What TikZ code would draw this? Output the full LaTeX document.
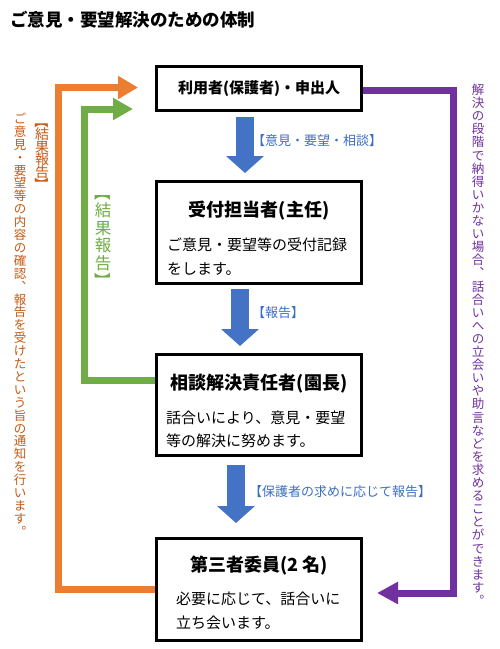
\documentclass[tikz,border=0pt]{standalone}
\usepackage{fontspec}
\usepackage{graphicx}
\setmainfont{Noto Sans CJK JP}
\usetikzlibrary{arrows.meta}
\definecolor{cOrange}{HTML}{ED7D31}
\definecolor{cOrText}{HTML}{C55A11}
\definecolor{cGreen}{HTML}{70AD47}
\definecolor{cPurple}{HTML}{7030A0}
\definecolor{cBlue}{HTML}{4472C4}
\definecolor{cBlueText}{HTML}{3C6EC4}
\ExplSyntaxOn
\NewDocumentCommand\vcell{mmm}{
  \vbox_to_ht:nn {#1} { \vss \hbox_to_wd:nn {1em} { \hss \smash{#3} \hss } \skip_vertical:n {#2} }
}
\NewDocumentCommand\vbrk{mm}{
  \vbox_to_ht:nn {#1} { \vss \hbox_to_wd:nn {1em} { \hss \rotatebox[origin=c]{-90}{#2} \hss } \vss }
}
\NewDocumentCommand\vstack{mm}{
  \tl_map_inline:nn {#2} { \vcell{#1}{(#1 - 1em)/2 + 0.12em}{##1} }
}
\NewDocumentCommand\vtextbox{m}{ \vbox{\offinterlineskip #1} }
\ExplSyntaxOff
\tikzset{
  box/.style={draw=black, line width=3pt, fill=white, minimum width=205pt, inner sep=0pt},
  btitle/.style={inner sep=0pt, font=\bfseries\fontsize{18}{20}\selectfont},
  bbody/.style={inner sep=0pt, anchor=west, align=left, font=\fontsize{15}{23.5}\selectfont},
  blabel/.style={inner sep=0pt, anchor=west, text=cBlueText, font=\fontsize{13}{15}\selectfont},
  vlabel/.style={inner sep=0pt, anchor=north},
  barrow/.style={draw=cBlue, line width=18pt, -{Triangle[length=17pt,width=37pt]}},
  oline/.style={draw=cOrange, line width=7pt, -{Triangle[length=20pt,width=22pt]}},
  gline/.style={draw=cGreen, line width=7pt, -{Triangle[length=20pt,width=21pt]}},
  pline/.style={draw=cPurple, line width=7pt, -{Triangle[length=21pt,width=21pt]}},
}
\begin{document}
\begin{tikzpicture}[x=1pt,y=-1pt]
\fill[white] (0,0) rectangle (500,649);
\useasboundingbox (0,0) rectangle (500,649);
% title
\node[anchor=west, inner sep=0pt, font=\bfseries\fontsize{17.5}{20}\selectfont] (title) at (10,19.5) {ご意見・要望解決のための体制};
% boxes
\node[box, minimum height=44pt, font=\bfseries\fontsize{15}{18}\selectfont] (box1) at (259,88.5) {利用者(保護者)・申出人};
\node[box, minimum height=102pt] (box2) at (259,232.5) {};
\node[box, minimum height=101pt] (box3) at (259,405) {};
\node[box, minimum height=102pt] (box4) at (259,589.5) {};
% box texts
\node[btitle] (t2) at (259,211) {受付担当者(主任)};
\node[bbody] (b2) at (167,256.75) {ご意見・要望等の受付記録\\をします。};
\node[btitle] (t3) at (259,384) {相談解決責任者(園長)};
\node[bbody] (b3) at (166,429.2) {話合いにより、意見・要望\\等の解決に努めます。};
\node[btitle] (t4) at (259,566) {第三者委員(2 名)};
\node[bbody] (b4) at (176,610.7) {必要に応じて、話合いに\\立ち会います。};
% blue arrows
\draw[barrow] ([xshift=-14pt,yshift=-5pt]box1.south) -- ([xshift=-14pt,yshift=7pt]box2.north);
\draw[barrow] ([xshift=-19pt,yshift=-4pt]box2.south) -- ([xshift=-19pt,yshift=7pt]box3.north);
\draw[barrow] ([xshift=-23pt,yshift=-8pt]box3.south) -- ([xshift=-23pt,yshift=14pt]box4.north);
\node[blabel] (l1) at (252,141) {【意見・要望・相談】};
\node[blabel] (l2) at (252,313) {【報告】};
\node[blabel] (l3) at (249,492) {【保護者の求めに応じて報告】};
% feedback lines
\draw[oline, shorten >=17pt] (box4.west) -- ++(-96.5,0) |- ([yshift=1pt]box1.west);
\draw[gline, shorten >=22pt] ([yshift=25pt]box3.west) -- ++(-71,0) |- ([yshift=-20.5pt]box1.west);
\draw[pline, shorten >=14pt] ([yshift=-1.5pt]box1.east) -- ++(90.5,0) |- ([yshift=-3.5pt]box4.east);
% vertical texts
\node[vlabel, text=cOrText, font=\fontsize{14}{14}\selectfont] (olabel) at (42,115)
  {\vtextbox{\vbrk{12.6pt}{【}\vstack{12.6pt}{結果報告}\vbrk{12.6pt}{】}}};
\node[vlabel, text=cOrText, font=\fontsize{12.5}{13}\selectfont] (otext) at (20,112)
  {\vtextbox{\vstack{12.9pt}{ご意見・要望等の内容の確認︑報告を受けたという旨の通知を行います︒}}};
\node[vlabel, text=cGreen, font=\fontsize{16.5}{17}\selectfont] (glabel) at (103,184)
  {\vtextbox{\vbrk{17.5pt}{【}\vstack{17.5pt}{結果報告}\vbrk{17.5pt}{】}}};
\node[vlabel, text=cPurple, font=\fontsize{12.5}{13}\selectfont] (ptext) at (478,83)
  {\vtextbox{\vstack{13.1pt}{解決の段階で納得いかない場合︑話合いへの立会いや助言などを求めることができます︒}}};
\end{tikzpicture}
\end{document}
